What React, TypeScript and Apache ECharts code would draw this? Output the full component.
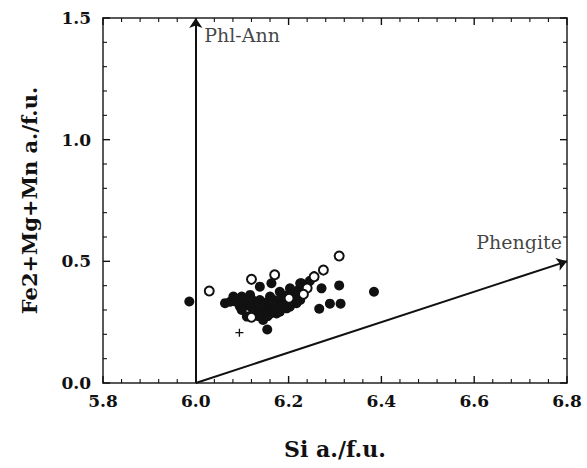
import React, { useEffect, useRef } from "react";
import * as echarts from "echarts";

const xTicks = [5.8, 6.0, 6.2, 6.4, 6.6, 6.8];
const yTicks = [0.0, 0.5, 1.0, 1.5];
const xMinorPerMajor = 5;
const yMinorPerMajor = 5;

const filledPts: [number, number][] = [
  [5.986, 0.335],
  [6.063, 0.328], [6.074, 0.334], [6.081, 0.355], [6.099, 0.355], [6.117, 0.362],
  [6.110, 0.321], [6.124, 0.300], [6.095, 0.314], [6.099, 0.300], [6.138, 0.341],
  [6.145, 0.300], [6.160, 0.355], [6.167, 0.314], [6.181, 0.375], [6.189, 0.328],
  [6.203, 0.389], [6.221, 0.382], [6.228, 0.410], [6.145, 0.266], [6.131, 0.285],
  [6.145, 0.259], [6.110, 0.273], [6.174, 0.286], [6.181, 0.293], [6.196, 0.307],
  [6.203, 0.314], [6.217, 0.328], [6.225, 0.341], [6.246, 0.420], [6.225, 0.410],
  [6.085, 0.335], [6.105, 0.340], [6.120, 0.345], [6.130, 0.320], [6.150, 0.330],
  [6.155, 0.310], [6.160, 0.285], [6.170, 0.340], [6.175, 0.325], [6.185, 0.345],
  [6.195, 0.360], [6.200, 0.330], [6.210, 0.355], [6.215, 0.370], [6.235, 0.395],
  [6.120, 0.310], [6.135, 0.275], [6.155, 0.275], [6.165, 0.295], [6.190, 0.315],
  [6.138, 0.396], [6.163, 0.410],
  [6.271, 0.389], [6.309, 0.401], [6.384, 0.375],
  [6.266, 0.305], [6.289, 0.326], [6.312, 0.326],
  [6.154, 0.220],
];

const openPts: [number, number][] = [
  [6.029, 0.378], [6.120, 0.426], [6.170, 0.445], [6.309, 0.522], [6.275, 0.464],
  [6.255, 0.437], [6.120, 0.270], [6.240, 0.390], [6.232, 0.365], [6.201, 0.348],
];

const plusPts: [number, number][] = [[6.094, 0.207]];

const arrowPhlAnn: [number, number][] = [[6.0, 0.0], [6.0, 1.5]];
const arrowPhengite: [number, number][] = [[6.0, 0.0], [6.8, 0.5]];

const annotations = [
  { name: "Phl-Ann", value: [6.018, 1.43], align: "left" },
  { name: "Phengite", value: [6.789, 0.58], align: "right" },
];

const FONT = "'DejaVu Serif', 'Liberation Serif', serif";
const INK = "#111";

// tick marks: [x, y, kind] kind 0 = x major, 1 = x minor, 2 = y major, 3 = y minor
function buildTicks(): number[][] {
  const out: number[][] = [];
  const x0 = xTicks[0];
  const y0 = yTicks[0];
  for (let i = 0; i < xTicks.length; i++) {
    out.push([xTicks[i], y0, 0]);
    if (i < xTicks.length - 1) {
      const step = (xTicks[i + 1] - xTicks[i]) / xMinorPerMajor;
      for (let k = 1; k < xMinorPerMajor; k++) out.push([xTicks[i] + k * step, y0, 1]);
    }
  }
  for (let i = 0; i < yTicks.length; i++) {
    out.push([x0, yTicks[i], 2]);
    if (i < yTicks.length - 1) {
      const step = (yTicks[i + 1] - yTicks[i]) / yMinorPerMajor;
      for (let k = 1; k < yMinorPerMajor; k++) out.push([x0, yTicks[i] + k * step, 3]);
    }
  }
  return out;
}

export default function App() {
  const ref = useRef<HTMLDivElement>(null);
  useEffect(() => {
    if (!ref.current) return;
    const chart = echarts.init(ref.current, null, { renderer: "svg" });
    const fmt = (v: number) => v.toFixed(1);
    const xMin = xTicks[0];
    const xMax = xTicks[xTicks.length - 1];
    const yMin = yTicks[0];
    const yMax = yTicks[yTicks.length - 1];
    const axisParts = (withLabel: boolean, margin: number) => ({
      axisLine: { show: true, onZero: false, lineStyle: { color: "#222", width: 1.5 } },
      axisTick: { show: false },
      minorTick: { show: false },
      splitLine: { show: false },
      axisLabel: withLabel
        ? { show: true, margin, fontFamily: FONT, fontWeight: "bold", fontSize: 17, color: INK, formatter: fmt }
        : { show: false },
    });
    const xAxis = (position: string, withLabel: boolean) => ({
      type: "value",
      position,
      min: xMin,
      max: xMax,
      interval: 0.2,
      ...axisParts(withLabel, 9),
    });
    const yAxis = (position: string, withLabel: boolean) => ({
      type: "value",
      position,
      min: yMin,
      max: yMax,
      interval: 0.5,
      ...axisParts(withLabel, 12),
    });
    const tickColor = "#111";
    chart.setOption({
      animation: false,
      grid: { left: 103, right: 20, top: 18, bottom: 85 },
      xAxis: [
        {
          ...xAxis("bottom", true),
          name: "Si a./f.u.",
          nameLocation: "middle",
          nameGap: 55,
          nameTextStyle: { fontFamily: FONT, fontWeight: "bold", fontSize: 22, color: INK },
        },
        xAxis("top", false),
      ],
      yAxis: [
        {
          ...yAxis("left", true),
          name: "Fe2+Mg+Mn a./f.u.",
          nameLocation: "middle",
          nameRotate: 90,
          nameGap: 63,
          nameTextStyle: { fontFamily: FONT, fontWeight: "bold", fontSize: 21, color: INK },
        },
        yAxis("right", false),
      ],
      series: [
        {
          type: "custom",
          silent: true,
          z: 1,
          data: buildTicks(),
          renderItem: (params: any, api: any) => {
            const v0 = api.value(0);
            const v1 = api.value(1);
            const kind = api.value(2);
            const major = kind === 0 || kind === 2;
            const len = major ? 7 : 4;
            const style = { stroke: tickColor, lineWidth: major ? 1.4 : 1.1 };
            if (kind === 0 || kind === 1) {
              const b = api.coord([v0, yMin]);
              const t = api.coord([v0, yMax]);
              return {
                type: "group",
                children: [
                  { type: "line", shape: { x1: b[0], y1: b[1], x2: b[0], y2: b[1] - len }, style },
                  { type: "line", shape: { x1: t[0], y1: t[1], x2: t[0], y2: t[1] + len }, style },
                ],
              };
            }
            const l = api.coord([xMin, v1]);
            const r = api.coord([xMax, v1]);
            return {
              type: "group",
              children: [
                { type: "line", shape: { x1: l[0], y1: l[1], x2: l[0] + len, y2: l[1] }, style },
                { type: "line", shape: { x1: r[0], y1: r[1], x2: r[0] - len, y2: r[1] }, style },
              ],
            };
          },
        },
        {
          type: "line",
          data: [],
          symbol: "none",
          silent: true,
          z: 1,
          markLine: {
            silent: true,
            symbol: ["none", "arrow"],
            symbolSize: 10,
            label: { show: false },
            lineStyle: { color: INK, width: 2, type: "solid" },
            data: [
              [{ coord: arrowPhlAnn[0] }, { coord: arrowPhlAnn[1] }],
              [{ coord: arrowPhengite[0] }, { coord: arrowPhengite[1] }],
            ],
          },
        },
        {
          type: "scatter",
          data: filledPts,
          symbol: "circle",
          symbolSize: 10,
          itemStyle: { color: INK, opacity: 1 },
          z: 3,
        },
        {
          type: "scatter",
          data: openPts,
          symbol: "circle",
          symbolSize: 9,
          itemStyle: { color: "#fff", borderColor: INK, borderWidth: 2, opacity: 1 },
          z: 4,
        },
        {
          type: "scatter",
          data: plusPts,
          symbol: "path://M0,5L10,5M5,0L5,10",
          symbolSize: 8,
          itemStyle: { color: "none", borderColor: INK, borderWidth: 1.3, opacity: 1 },
          z: 4,
        },
        {
          type: "scatter",
          symbolSize: 0,
          silent: true,
          z: 5,
          data: annotations.map((a) => ({
            name: a.name,
            value: a.value,
            label: {
              show: true,
              position: [0, 0],
              align: a.align,
              verticalAlign: "middle",
              formatter: "{b}",
              fontFamily: FONT,
              fontSize: 19,
              color: INK,
            },
          })),
        },
      ],
    });
    return () => chart.dispose();
  }, []);
  return (
    <div
      ref={ref}
      style={{ position: "fixed", left: 0, top: 0, width: 587, height: 468, background: "#fff" }}
    />
  );
}
